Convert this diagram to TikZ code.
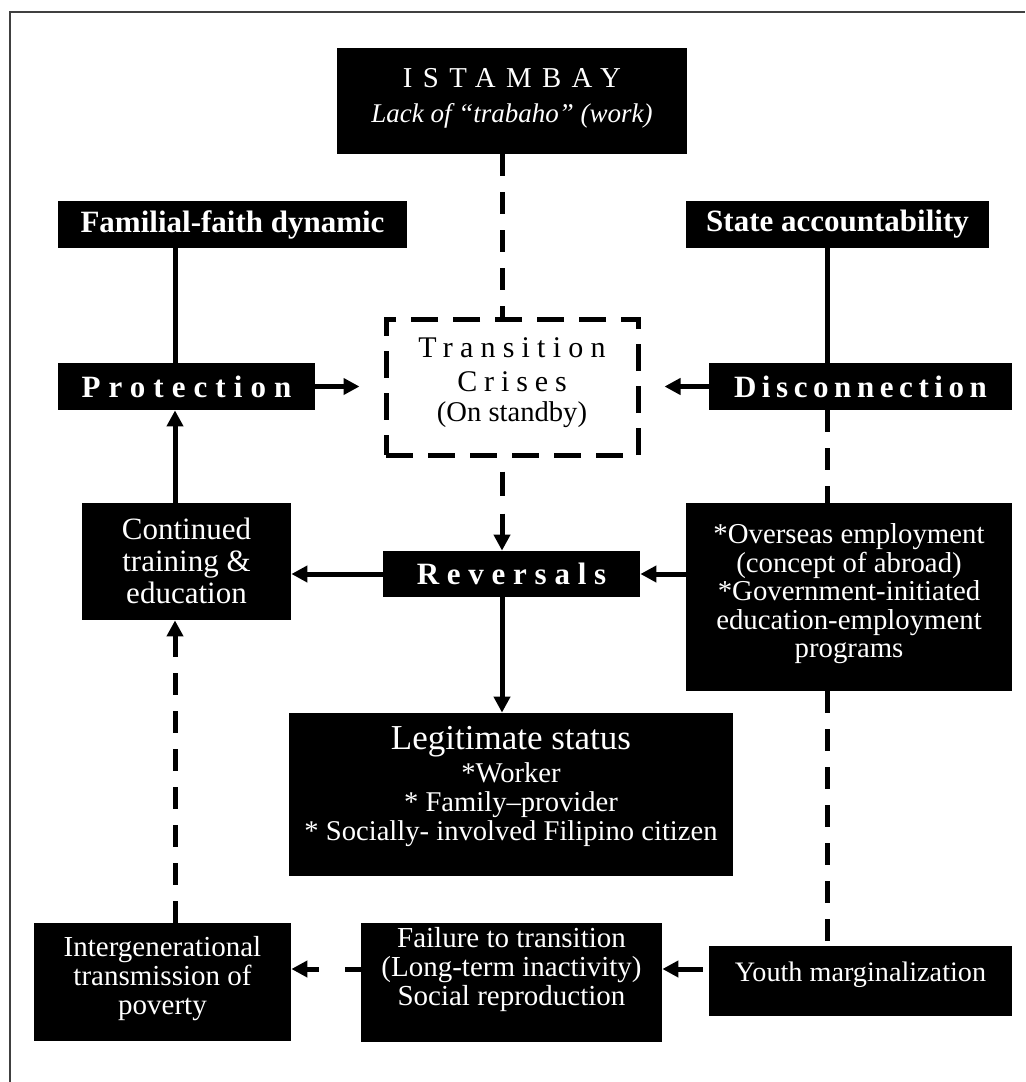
\documentclass[tikz,border=0pt]{standalone}
\usepackage{fontspec}
\setmainfont{Liberation Serif}
\usetikzlibrary{arrows.meta}

\newcommand{\liftup}[2]{\raisebox{#1}[\height][\depth]{\begin{tabular}{@{}c@{}}#2\end{tabular}}}

\begin{document}
\begin{tikzpicture}[x=0.5pt,y=-0.5pt,
 blackbox/.style={fill=black,text=white,inner sep=0pt,font=\fontsize{14.5}{14.5}\selectfont},
 boldbox/.style={blackbox,font=\fontsize{15.5}{16}\selectfont\bfseries},
 link/.style={line width=2.5pt},
 arr/.style={link,-{Triangle[length=8pt,width=8pt]}},
 dlink/.style={link,dash pattern=on 11pt off 8pt}]
 \useasboundingbox (0,0) rectangle (1025,1082);
 \draw[line width=0.8pt,black!75] (10,1082) -- (10,12) -- (1025,12);
 % columns and rows of the connectors
 \coordinate (colL) at (175,0);
 \coordinate (colM) at (502,0);
 \coordinate (colR) at (827,0);
 \coordinate (rowY) at (0,969);
 % boxes
 \node[blackbox,minimum width=175pt,minimum height=53pt] (istambay) at (512,101)
  {\liftup{1pt}{{\fontsize{14.4}{14.5}\selectfont\addfontfeatures{LetterSpace=36}ISTAMBAY}\\[3pt]
  {\itshape\fontsize{13.5}{14.5}\selectfont Lack of “trabaho” (work)}}};
 \node[boldbox,minimum width=174.5pt,minimum height=23.5pt] (familial) at (232.5,224.5) {Familial-faith dynamic};
 \node[boldbox,minimum width=151.5pt,minimum height=23.5pt] (state) at (837.5,224.5) {State accountability};
 \node[boldbox,minimum width=128.5pt,minimum height=23.5pt] (protect) at (186.5,386.5)
  {\addfontfeatures{LetterSpace=26}Protection};
 \node[boldbox,minimum width=151.5pt,minimum height=23.5pt] (disconn) at (860.5,386.5)
  {\addfontfeatures{LetterSpace=18}Disconnection};
 \node[draw,line width=2.5pt,dash pattern=on 13.5pt off 7.5pt,inner sep=0pt,
  minimum width=126pt,minimum height=68pt,font=\fontsize{15}{15}\selectfont] (transit) at (512,387)
  {\liftup{2pt}{{\addfontfeatures{LetterSpace=24}Transition}\\[2pt]
  {\addfontfeatures{LetterSpace=23}Crises}\\
  {\fontsize{14.3}{15}\selectfont (On standby)}}};
 \node[boldbox,minimum width=128.5pt,minimum height=23pt] (reversals) at (511.5,574)
  {\addfontfeatures{LetterSpace=25}Reversals};
 \node[blackbox,minimum width=104.5pt,minimum height=58.5pt,font=\fontsize{15.5}{16}\selectfont]
  (continued) at (186.5,561.5) {\liftup{-2pt}{Continued\\ training \&\\ education}};
 \node[blackbox,minimum width=163pt,minimum height=94pt,font=\fontsize{14.4}{14.2}\selectfont]
  (overseas) at (849,597) {\liftup{1pt}{*Overseas employment\\ (concept of abroad)\\
  {*}Government-initiated\\ education-employment\\ programs}};
 \node[blackbox,minimum width=222pt,minimum height=81.5pt,font=\fontsize{14.3}{14.5}\selectfont]
  (legit) at (511,794.5) {\liftup{3.5pt}{{\fontsize{17.5}{19}\selectfont Legitimate status}\\[2pt]
  *Worker\\ {*} Family–provider\\ {*} Socially- involved Filipino citizen}};
 \node[blackbox,minimum width=128.5pt,minimum height=59pt,font=\fontsize{14.5}{14.5}\selectfont]
  (intergen) at (162.5,982) {\liftup{1pt}{Intergenerational\\ transmission of\\ poverty}};
 \node[blackbox,minimum width=150.5pt,minimum height=59.5pt] (failure) at (511.5,982.5)
  {\liftup{6pt}{Failure to transition\\ (Long-term inactivity)\\ Social reproduction}};
 \node[blackbox,minimum width=151.5pt,minimum height=35pt,font=\fontsize{14.1}{14.5}\selectfont]
  (youth) at (860.5,981) {\liftup{2.5pt}{Youth marginalization}};
 % connectors
 \draw[dlink] (istambay.south -| colM) -- (transit.north -| colM);
 \draw[link] (familial.south -| colL) -- (protect.north -| colL);
 \draw[link] (state.south -| colR) -- (disconn.north -| colR);
 \draw[arr,shorten >=12pt] (protect.east) -- (protect.east -| transit.west);
 \draw[arr,shorten >=12pt] (disconn.west) -- (disconn.west -| transit.east);
 \draw[dlink] (disconn.south -| colR) -- (overseas.north -| colR);
 \draw[arr,dash pattern=on 12pt off 9pt,shorten <=7pt] (transit.south -| colM) -- (reversals.north -| colM);
 \draw[arr] (reversals.west) -- (continued.east |- reversals.west);
 \draw[arr] (overseas.west |- reversals.east) -- (reversals.east);
 \draw[arr] (continued.north -| colL) -- (protect.south -| colL);
 \draw[arr] (reversals.south -| colM) -- (legit.north -| colM);
 \draw[dlink] (overseas.south -| colR) -- (youth.north -| colR);
 \draw[arr,shorten <=3pt] (youth.west |- rowY) -- (failure.east |- rowY);
 \draw[arr,dash pattern=on 8pt off 13pt] (failure.west |- rowY) -- (intergen.east |- rowY);
 \draw[arr,dash pattern=on 11pt off 8pt] (intergen.north -| colL) -- (continued.south -| colL);
\end{tikzpicture}
\end{document}
